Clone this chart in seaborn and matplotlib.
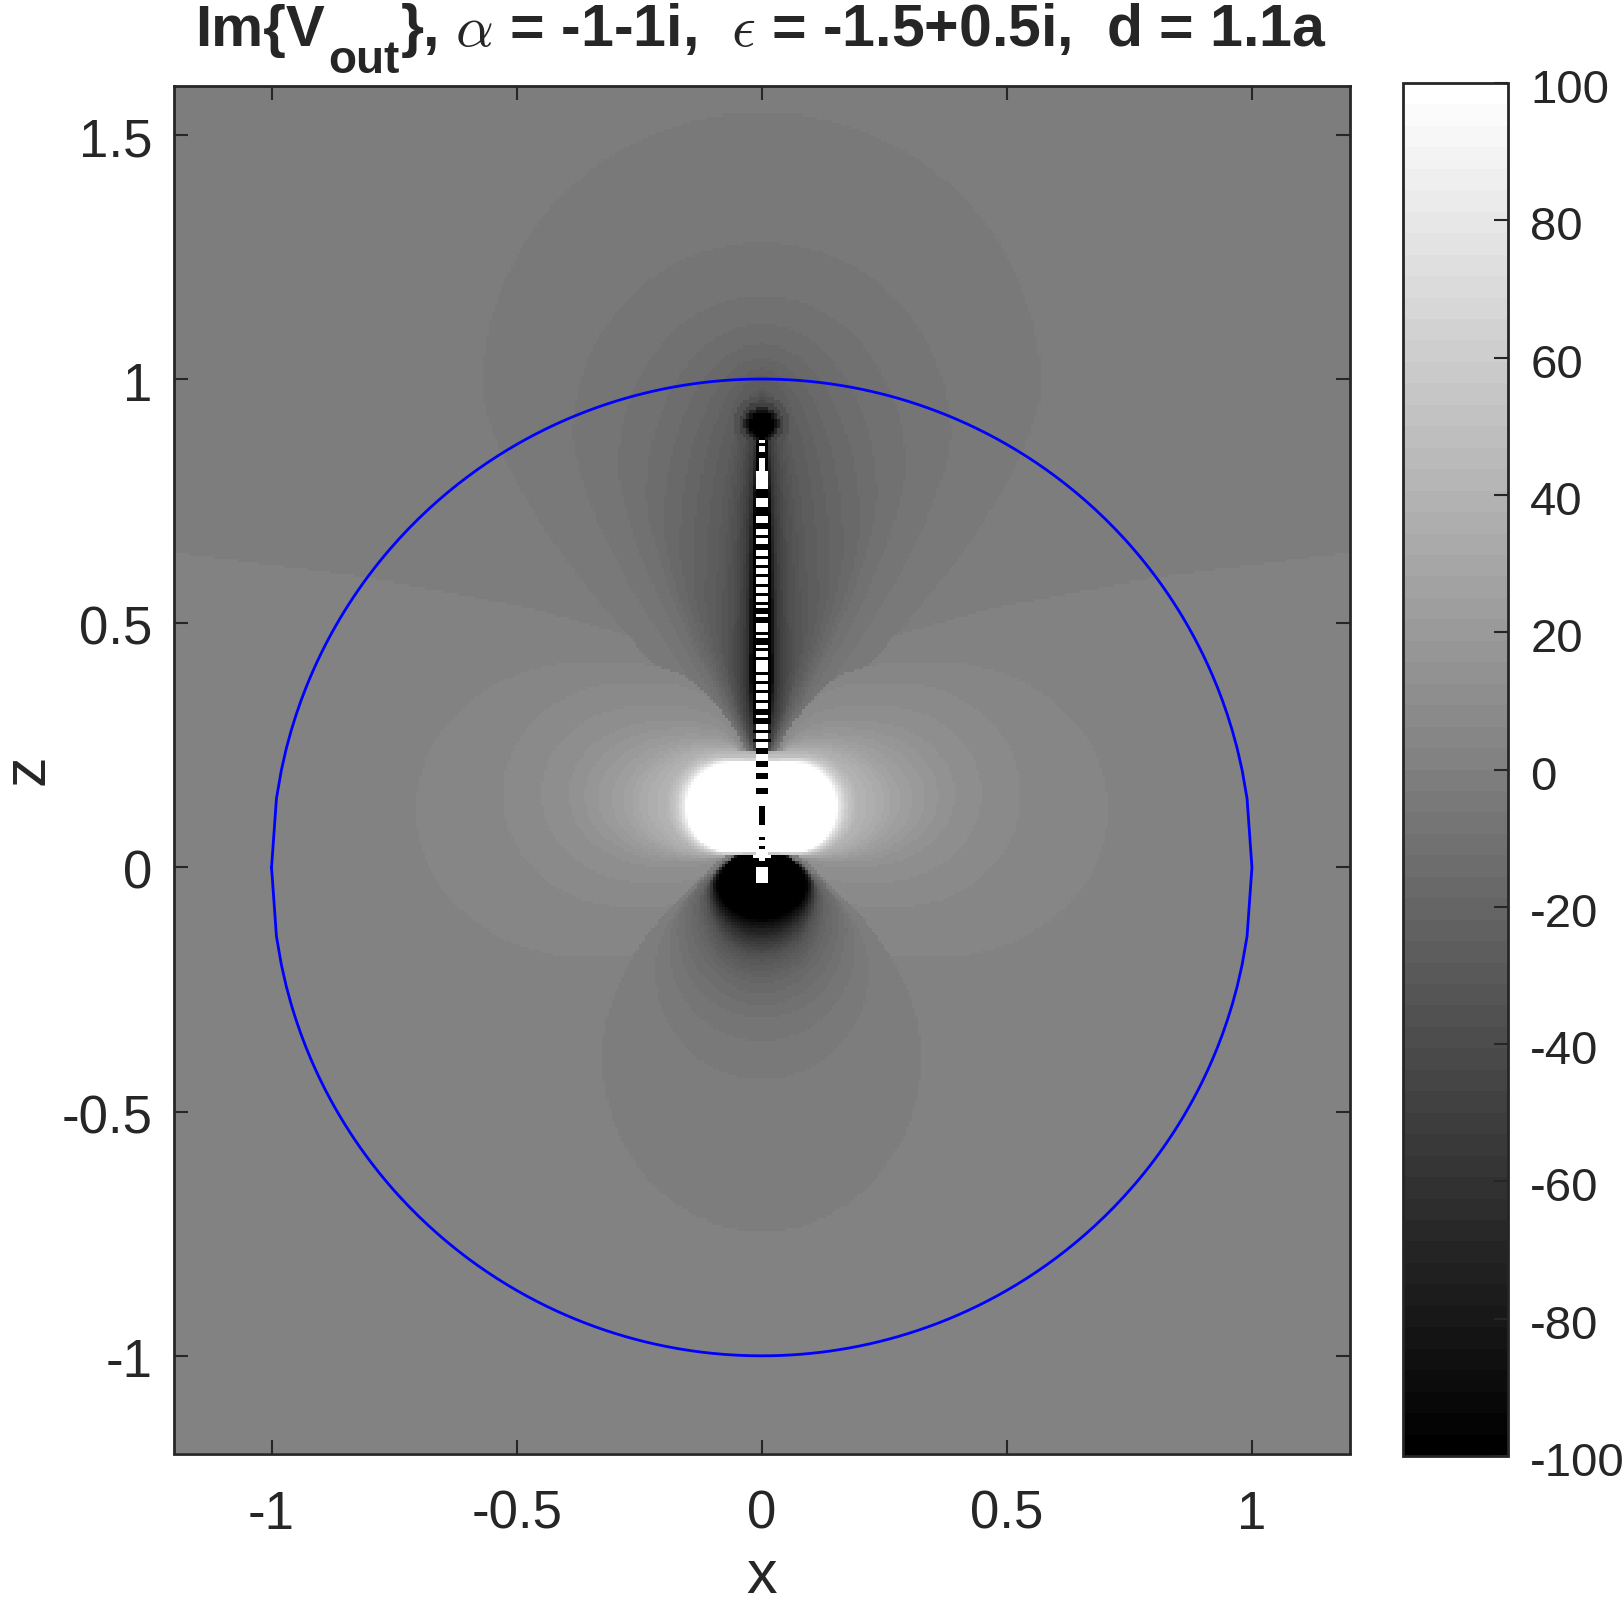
import numpy as np
import matplotlib
matplotlib.use("Agg")
import matplotlib.pyplot as plt
import seaborn as sns
from matplotlib.transforms import ScaledTranslation

# ticks
x_ticks = [-1, -0.5, 0, 0.5, 1]
x_labels = ["-1", "-0.5", "0", "0.5", "1"]
z_ticks = [-1, -0.5, 0, 0.5, 1, 1.5]
z_labels = ["-1", "-0.5", "0", "0.5", "1", "1.5"]
cbar_ticks = [-100, -80, -60, -40, -20, 0, 20, 40, 60, 80, 100]

# contour: V=0 line above the side lobes
zero_x = [0.0, 0.065, 0.188, 0.48, 0.793, 1.2]
zero_z = [0.30, 0.383, 0.451, 0.533, 0.592, 0.645]

# colour bands of the top lobe (one entry per band, bands are 200/64 wide)
top_band = list(range(1, 33))
top_tip = [1.546, 1.28, 1.171, 1.113, 1.072, 1.044, 1.022, 1.005, 0.98, 0.975, 0.97, 0.965,
           0.96, 0.955, 0.95, 0.945, 0.94, 0.935, 0.93, 0.93, 0.93, 0.93, 0.93, 0.93,
           0.93, 0.93, 0.93, 0.93, 0.93, 0.93, 0.93, 0.93]
top_halfw = [0.57, 0.385, 0.293, 0.235, 0.20, 0.167, 0.14, 0.116, 0.093, 0.08, 0.07, 0.06,
             0.054, 0.048, 0.043, 0.038, 0.035, 0.032, 0.03, 0.028, 0.027, 0.026, 0.025, 0.024,
             0.023, 0.023, 0.022, 0.022, 0.021, 0.02, 0.02, 0.019]
top_wide = [0.98, 0.885, 0.82, 0.76, 0.70, 0.65, 0.6, 0.55, 0.5, 0.46, 0.43, 0.41,
            0.40, 0.39, 0.38, 0.38, 0.38, 0.38, 0.38, 0.38, 0.38, 0.38, 0.38, 0.38,
            0.38, 0.38, 0.38, 0.38, 0.38, 0.38, 0.38, 0.38]
top_base = [0.20, 0.20, 0.20, 0.20, 0.20, 0.20, 0.20, 0.20, 0.20, 0.20, 0.20, 0.20,
            0.20, 0.20, 0.20, 0.20, 0.20, 0.20, 0.20, 0.20, 0.20, 0.20, 0.20, 0.20,
            0.20, 0.20, 0.20, 0.20, 0.20, 0.20, 0.20, 0.20]

# bands of the two side lobes
side_band = list(range(1, 33))
side_tip = [0.706, 0.528, 0.449, 0.394, 0.361, 0.333, 0.306, 0.282, 0.265, 0.25, 0.232, 0.214,
            0.195, 0.19, 0.186, 0.182, 0.178, 0.175, 0.172, 0.17, 0.168, 0.166, 0.164, 0.162,
            0.16, 0.159, 0.158, 0.157, 0.156, 0.155, 0.154, 0.153]
side_top = [0.42, 0.377, 0.332, 0.30, 0.285, 0.272, 0.262, 0.255, 0.25, 0.246, 0.243, 0.238,
            0.235, 0.232, 0.23, 0.228, 0.226, 0.225, 0.224, 0.223, 0.222, 0.221, 0.22, 0.22,
            0.219, 0.219, 0.218, 0.218, 0.217, 0.217, 0.216, 0.216]
side_bot = [-0.183, -0.08, -0.03, 0.0, 0.01, 0.015, 0.018, 0.02, 0.021, 0.022, 0.023, 0.024,
            0.025, 0.025, 0.026, 0.026, 0.027, 0.027, 0.028, 0.028, 0.029, 0.029, 0.03, 0.03,
            0.03, 0.03, 0.03, 0.03, 0.03, 0.03, 0.03, 0.03]
side_wide = [0.36, 0.28, 0.24, 0.20, 0.17, 0.15, 0.13, 0.115, 0.105, 0.095, 0.09, 0.085,
             0.084, 0.083, 0.082, 0.08, 0.079, 0.078, 0.076, 0.075, 0.074, 0.072, 0.071, 0.07,
             0.068, 0.067, 0.066, 0.064, 0.063, 0.062, 0.061, 0.06]
side_base = [0.0, 0.0, 0.0, 0.0, 0.0, 0.0, 0.0, 0.0, 0.0, 0.0, 0.0, -0.12,
             -0.12, -0.12, -0.12, -0.12, -0.12, -0.12, -0.12, -0.12, -0.12, -0.12, -0.12, -0.12,
             -0.12, -0.12, -0.12, -0.12, -0.12, -0.12, -0.12, -0.12]

# bands of the bottom lobe
bottom_band = list(range(0, 32))
bottom_tip = [-0.745, -0.434, -0.356, -0.308, -0.281, -0.257, -0.237, -0.223, -0.212, -0.2, -0.191, -0.183,
              -0.177, -0.172, -0.167, -0.162, -0.158, -0.154, -0.15, -0.145, -0.142, -0.139, -0.135, -0.131,
              -0.128, -0.125, -0.122, -0.118, -0.115, -0.112, -0.11, -0.107]
bottom_halfw = [0.325, 0.218, 0.19, 0.172, 0.158, 0.145, 0.135, 0.128, 0.124, 0.12, 0.116, 0.113,
                0.111, 0.11, 0.109, 0.108, 0.107, 0.106, 0.105, 0.103, 0.102, 0.101, 0.10, 0.10,
                0.099, 0.098, 0.097, 0.095, 0.094, 0.093, 0.092, 0.09]
bottom_wide = [-0.387, -0.21, -0.16, -0.13, -0.11, -0.095, -0.085, -0.075, -0.07, -0.065, -0.06, -0.056,
               -0.053, -0.05, -0.048, -0.046, -0.045, -0.044, -0.043, -0.042, -0.041, -0.04, -0.04, -0.039,
               -0.038, -0.038, -0.037, -0.037, -0.036, -0.036, -0.035, -0.035]
bottom_base = [0.08, 0.06, 0.06, 0.06, 0.06, 0.06, 0.05, 0.05, 0.05, 0.05, 0.05, 0.05,
               0.05, 0.05, 0.05, 0.05, 0.05, 0.05, 0.05, 0.05, 0.05, 0.05, 0.05, 0.05,
               0.05, 0.05, 0.05, 0.05, 0.05, 0.05, 0.05, 0.05]

# black spot at the top of the needle
spot_z = 0.908
spot_value = [-18, -25, -35, -50, -70, -85, -100]
spot_radius = [0.09, 0.075, 0.058, 0.045, 0.036, 0.03, 0.0255]

# needle, top to bottom: rows, value, half width in cells
needle_top = 0.873
needle_rows = [1, 1, 2, 2, 4, 6, 3, 3, 3, 2, 2, 2, 1, 2, 2, 2,
               1, 2, 1, 2, 1, 2, 1, 2, 1, 2, 1, 1, 2, 1, 2, 3, 1, 1, 2,
               1, 1, 2, 1, 2, 2, 1, 2, 1, 2, 1, 2, 1, 2,
               2, 1, 2, 2, 1, 2, 1, 2, 2, 2, 2,
               2, 2, 3, 2, 4, 6, 4, 1, 2, 1, 2, 1, 1, 2, 5]
needle_vals = [100, -100, 100, -100, 100, 100, -100, 100, -100, 100, -100, 100, -100, 100, -100, 100,
               -100, 100, -100, 100, -100, 100, -100, 100, -100, 100, -100, 100, -100, 100, -100, 100, -100, 100, -100,
               100, -100, 100, -100, 100, 100, -100, 100, -100, 100, -100, 100, -100, 100,
               -100, 100, -100, 100, -100, 100, -100, 100, -100, 100, -100,
               100, -100, 100, -100, 100, -100, 100, -100, 100, -100, 100, 100, 100, -100, 100]
needle_hw = [1, 1, 1, 2, 1, 2, 2, 2, 2, 2, 2, 2, 3, 2, 3, 2,
             3, 2, 3, 2, 3, 2, 3, 2, 3, 2, 3, 2, 3, 2, 3, 2, 3, 2, 3,
             2, 3, 2, 3, 2, 2, 3, 2, 3, 2, 3, 2, 3, 2,
             3, 2, 3, 2, 3, 2, 3, 2, 2, 2, 2,
             2, 2, 2, 2, 2, 1, 2, 1, 2, 1, 2, 3, 1, 2, 2]

step = 0.00625
xc = -1.2 + step * (np.arange(384) + 0.5)
zc = 1.6 - step * (np.arange(448) + 0.5)
X, Z = np.meshgrid(xc, zc)
AX = np.abs(X)


def band_value(k, sign):
    return sign * (k + 0.5) * 200 / 64


def vertical_lobe(tip, halfw, wide, base, power=2.0):
    s = np.sign(tip - base)
    t = np.clip(s * (Z - wide) / abs(tip - wide), 0, 1)
    u = np.clip(s * (wide - Z) / abs(wide - base), 0, 1)
    w = np.where(s * (Z - wide) >= 0, halfw * np.sqrt(1 - t ** 2), halfw * (1 - u ** power))
    return (AX <= w) & (s * (Z - tip) <= 0) & (s * (Z - base) >= 0)


def side_lobe(tip, top, bot, wide, base):
    c = (top + bot) / 2
    h = (top - bot) / 2
    t = np.clip((AX - wide) / (tip - wide), 0, 1)
    u = np.clip((wide - AX) / (wide - base), 0, 1)
    w = np.where(AX >= wide, h * np.sqrt(1 - t ** 2), h * (1 - u ** 4))
    return (np.abs(Z - c) <= w) & (AX <= tip)


# paint the bands from the outside in
field = np.full(X.shape, 1.5)
field[Z > np.interp(AX, zero_x, zero_z)] = -1.5

for i in range(len(top_band)):
    field[vertical_lobe(top_tip[i], top_halfw[i], top_wide[i], top_base[i], 1.5)] = band_value(top_band[i], -1)
for i in range(0, 11):
    field[side_lobe(side_tip[i], side_top[i], side_bot[i], side_wide[i], side_base[i])] = band_value(side_band[i], 1)
for i in range(len(bottom_band)):
    field[vertical_lobe(bottom_tip[i], bottom_halfw[i], bottom_wide[i], bottom_base[i])] = band_value(bottom_band[i], -1)
for i in range(11, len(side_band)):
    field[side_lobe(side_tip[i], side_top[i], side_bot[i], side_wide[i], side_base[i])] = band_value(side_band[i], 1)
for v, r in zip(spot_value, spot_radius):
    m = np.hypot(X, Z - spot_z) <= r
    field[m] = np.minimum(field[m], v)

row = int(round((1.6 - needle_top) / step))
for n, v, hw in zip(needle_rows, needle_vals, needle_hw):
    field[row:row + n, 192 - hw:192 + hw] = v
    row += n


def to_col(x):
    return (np.asarray(x, dtype=float) + 1.2) / step


def to_row(z):
    return (1.6 - np.asarray(z, dtype=float)) / step


sns.set_style("ticks")
plt.rcParams["font.family"] = ["Liberation Sans", "DejaVu Sans"]
plt.rcParams["mathtext.fontset"] = "cm"

W, H = 1623, 1607
dark = "#262626"
fig = plt.figure(figsize=(W / 100, H / 100), dpi=100)
ax = fig.add_axes([173.5 / W, 1 - 1453.5 / H, (1350 - 173.5) / W, (1453.5 - 86) / H])
cax = fig.add_axes([1402.5 / W, 1 - 1456 / H, (1508 - 1402.5) / W, (1456 - 83) / H])

sns.heatmap(field, ax=ax, cbar_ax=cax, cmap=plt.get_cmap("gray", 64), vmin=-100, vmax=100,
            xticklabels=False, yticklabels=False, cbar_kws={"ticks": cbar_ticks})

# blue circle, a = 1
cx = np.linspace(-1, 1, 201)
cz = np.sqrt(1 - cx ** 2)
ax.plot(to_col(np.r_[cx, cx[::-1]]), to_row(np.r_[cz, -cz[::-1]]), color="#0000ff", lw=2.0)

ax.set_axisbelow(False)
ax.set_xticks(to_col(x_ticks), x_labels)
ax.set_yticks(to_row(z_ticks), z_labels)
ax.tick_params(axis="both", direction="in", length=10, width=1.5, color=dark, labelcolor=dark,
               labelsize=38, top=True, right=True, left=True, bottom=True)
ax.tick_params(axis="x", pad=26)
ax.tick_params(axis="y", pad=15)
for s in ax.spines.values():
    s.set_visible(True)
    s.set_linewidth(2)
    s.set_color(dark)
for lab in ax.get_yticklabels():
    lab.set_transform(lab.get_transform() + ScaledTranslation(0, -2 / 100, fig.dpi_scale_trans))

ax.set_xlabel("x", fontsize=44, color=dark, labelpad=7)
ax.set_ylabel("z", fontsize=44, color=dark, labelpad=4)


def title_piece(x, y, s, size):
    fig.text(x / W, 1 - y / H, s, fontsize=size, fontweight="bold", color=dark, ha="left", va="baseline")


title_piece(195, 46, "Im{V", 42)
title_piece(328, 73, "out", 33)
title_piece(400, 46, r"}, $\alpha$ = -1-1i,  $\epsilon$ = -1.5+0.5i,  d = 1.1a", 42.5)

cb = ax.collections[0].colorbar
cb.ax.set_axisbelow(False)
cb.ax.set_yticklabels([str(t) for t in cbar_ticks])
cb.ax.tick_params(direction="in", length=10, width=1.5, color=dark, labelcolor=dark, labelsize=34, pad=16)
for lab in cb.ax.get_yticklabels():
    lab.set_transform(lab.get_transform() + ScaledTranslation(0, -3 / 100, fig.dpi_scale_trans))
cb.outline.set_visible(True)
cb.outline.set_linewidth(2)
cb.outline.set_edgecolor(dark)

fig.savefig("out.png", dpi=100)
